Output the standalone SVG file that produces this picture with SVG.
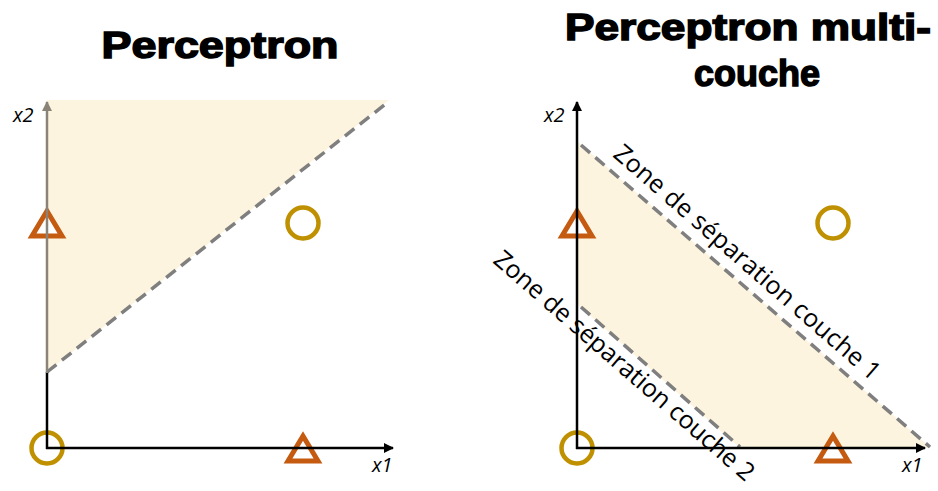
<svg xmlns="http://www.w3.org/2000/svg" width="938" height="491" viewBox="0 0 938 491">
<defs>
<style>
.title{font-family:"Liberation Sans",Arial,sans-serif;font-weight:bold;font-size:37px;fill:#000;stroke:#000;stroke-width:1.5;text-anchor:middle}
.ax{stroke:#000;stroke-width:2.5;fill:none}
.axg{stroke:#8A8478;stroke-width:2.5;fill:none}
.dash{stroke:#7F7F7F;stroke-width:3.5;stroke-dasharray:12 7;fill:none}
.zone{fill:#FCF4DE;stroke:none}
.tri{fill:#fff;stroke:#C55A11;stroke-width:5;stroke-linejoin:miter}
.circ{fill:#fff;stroke:#BF9000;stroke-width:4.5}
.lbl{font-family:"Open Sans","Noto Sans",sans-serif;font-style:italic;font-size:20px;fill:#000}
.sep{font-family:"Open Sans","Noto Sans",sans-serif;font-size:25px;fill:#000}
</style>
<marker id="arr" viewBox="0 0 10 10" refX="9" refY="5" markerWidth="4" markerHeight="4" markerUnits="strokeWidth" orient="auto">
<path d="M0,0 L10,5 L0,10 z" fill="#000"/>
</marker>
<marker id="arrg" viewBox="0 0 10 10" refX="9" refY="5" markerWidth="4" markerHeight="4" markerUnits="strokeWidth" orient="auto">
<path d="M0,0 L10,5 L0,10 z" fill="#8A8478"/>
</marker>
</defs>

<g id="title-left">
<text class="title" x="220" y="58" textLength="237" lengthAdjust="spacingAndGlyphs">Perceptron</text>
</g>
<g id="title-right">
<text class="title" x="748" y="40" textLength="366" lengthAdjust="spacingAndGlyphs">Perceptron multi-</text>
<text class="title" x="757" y="86" textLength="126" lengthAdjust="spacingAndGlyphs">couche</text>
</g>

<g id="panel-left">
<polygon class="zone" points="47,100 389,100 47,372"/>
<g id="sep-left">
<line class="dash" x1="47" y1="372" x2="388" y2="102"/>
</g>
<g id="pt-left-tri1"><path class="tri" d="M47,211 L32,236 L62,236 Z"/></g>
<g id="pt-left-circ1"><circle class="circ" cx="303" cy="223" r="15.5"/></g>
<g id="pt-left-circ0"><circle class="circ" cx="47" cy="448" r="15.5"/></g>
<g id="pt-left-tri2"><path class="tri" d="M303,436 L288,461 L318,461 Z"/></g>
<g id="axes-left">
<line class="ax" x1="46" y1="448" x2="393" y2="448" marker-end="url(#arr)"/>
<line class="ax" x1="47" y1="449" x2="47" y2="372"/>
<line class="axg" x1="47" y1="373" x2="47" y2="102" marker-end="url(#arrg)"/>
<text class="lbl" x="13" y="122">x2</text>
<text class="lbl" x="372" y="472">x1</text>
</g>
</g>

<g id="panel-right">
<polygon class="zone" points="578,142 931,448 740,448 578,305"/>
<g id="connectors">
<line class="dash" x1="581" y1="145" x2="930" y2="447"/>
<line class="dash" x1="581" y1="307" x2="740" y2="447"/>
</g>
<g id="pt-right-tri1"><path class="tri" d="M577,211 L562,236 L592,236 Z"/></g>
<g id="pt-right-circ1"><circle class="circ" cx="833" cy="223" r="15.5"/></g>
<g id="pt-right-circ0"><circle class="circ" cx="577" cy="448" r="15.5"/></g>
<g id="pt-right-tri2"><path class="tri" d="M833,436 L818,461 L848,461 Z"/></g>
<g id="axes-right">
<line class="ax" x1="576" y1="448" x2="925" y2="448" marker-end="url(#arr)"/>
<line class="ax" x1="577" y1="449" x2="577" y2="102" marker-end="url(#arr)"/>
<text class="lbl" x="544" y="122">x2</text>
<text class="lbl" x="902" y="472">x1</text>
</g>
<g id="label-sep1">
<text class="sep" transform="translate(612,156) rotate(41)" textLength="344">Zone de séparation couche 1</text>
</g>
<g id="label-sep2">
<text class="sep" transform="translate(492,262) rotate(41)" textLength="336">Zone de séparation couche 2</text>
</g>
</g>
</svg>
